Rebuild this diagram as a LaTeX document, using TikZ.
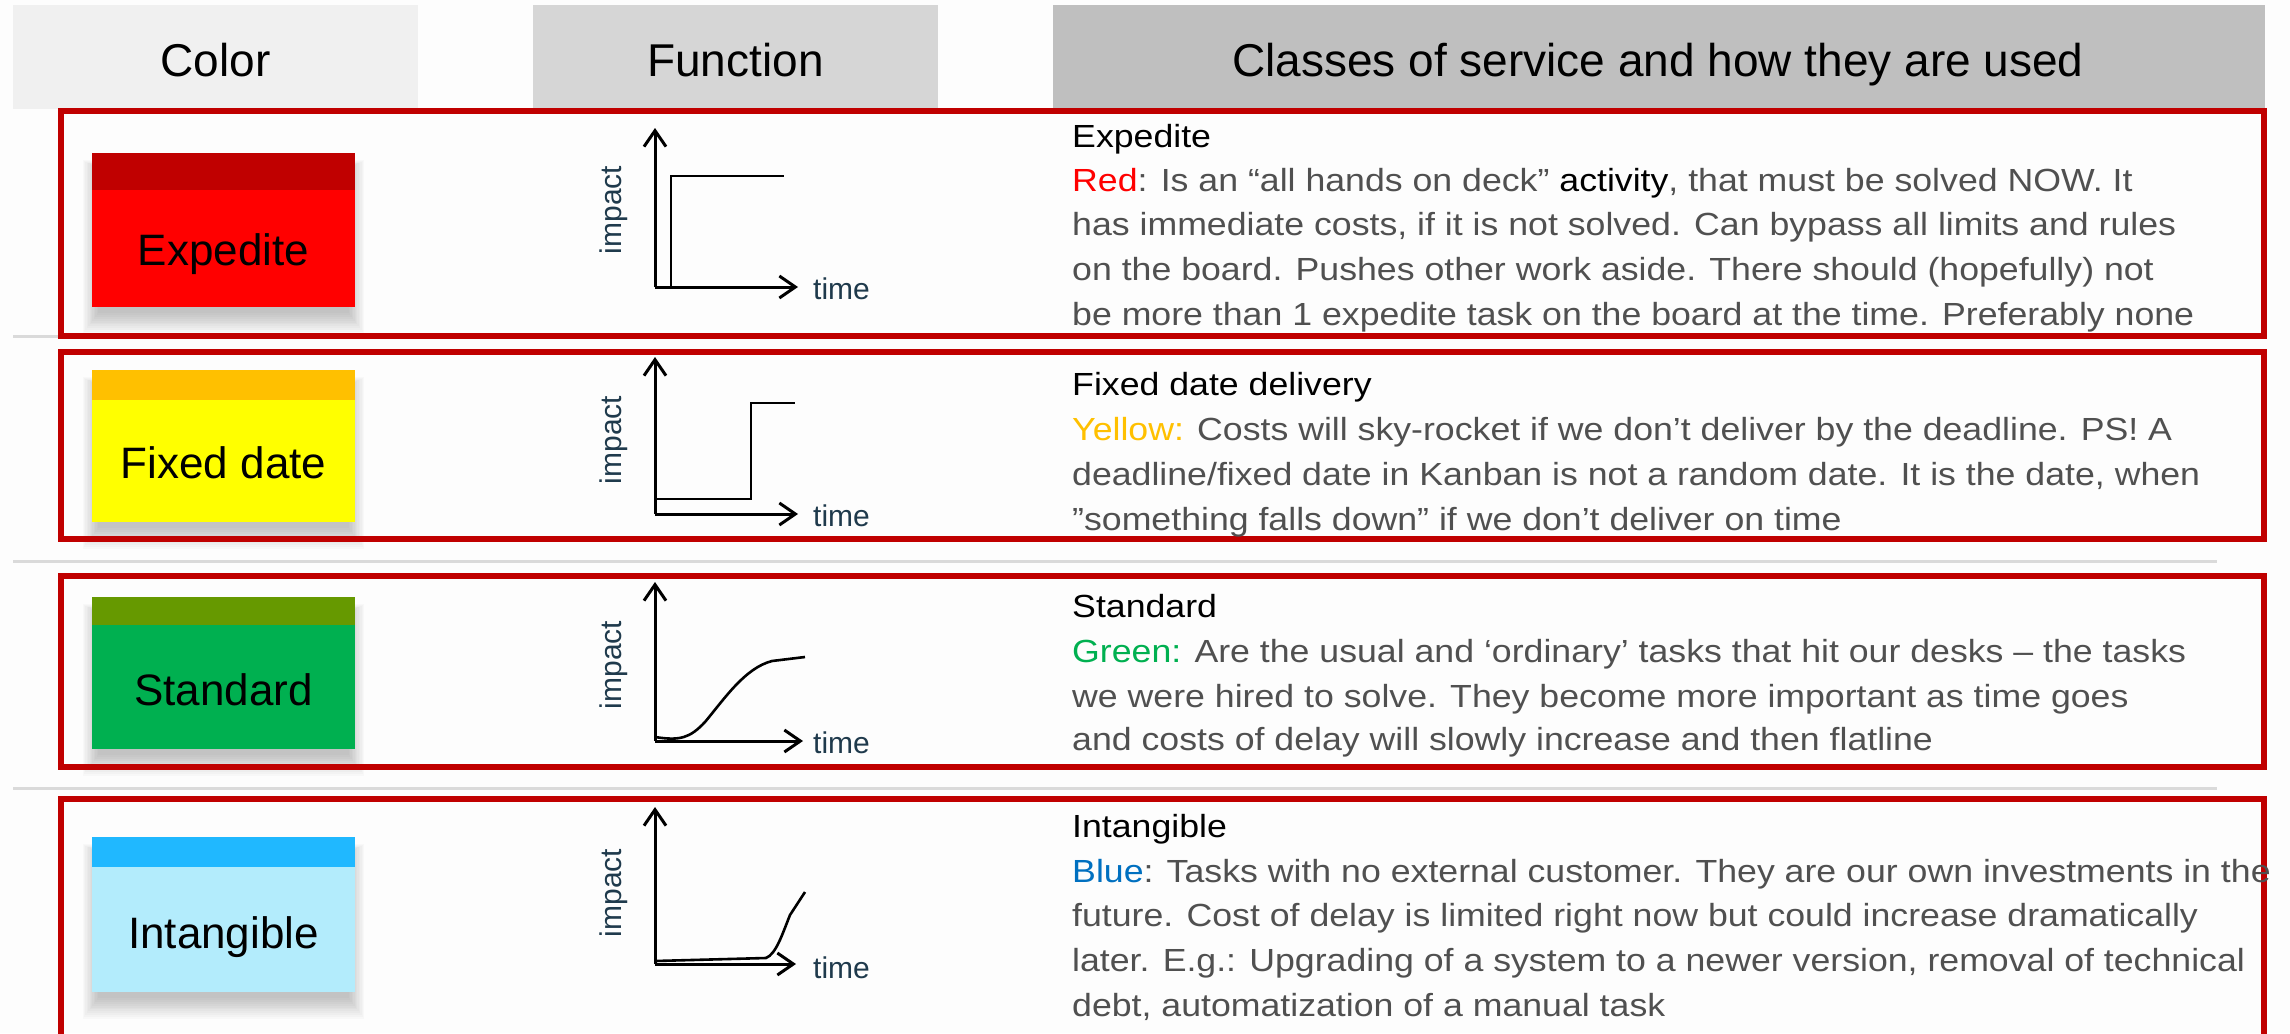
\documentclass[tikz,border=0pt]{standalone}
\usepackage{fontspec}
\setmainfont{Liberation Sans}
\newfontfamily\descfont[FakeStretch=1.115]{Liberation Sans}
\usetikzlibrary{arrows.meta}

\definecolor{pagebg}{HTML}{FDFDFD}
\definecolor{hdrA}{HTML}{F0F0F0}
\definecolor{hdrB}{HTML}{D6D6D6}
\definecolor{hdrC}{HTML}{BFBFBF}
\definecolor{frame}{HTML}{C00000}
\definecolor{rule}{HTML}{DADADA}
\definecolor{bodygray}{HTML}{505050}
\definecolor{axislbl}{HTML}{1F3A4C}
\definecolor{expTop}{HTML}{C00000}
\definecolor{expBody}{HTML}{FF0000}
\definecolor{fixTop}{HTML}{FFC000}
\definecolor{fixBody}{HTML}{FFFF00}
\definecolor{stdTop}{HTML}{669900}
\definecolor{stdBody}{HTML}{00B050}
\definecolor{intTop}{HTML}{20B8FF}
\definecolor{intBody}{HTML}{B3ECFC}
\definecolor{lblRed}{HTML}{FF0000}
\definecolor{lblYellow}{HTML}{FFC000}
\definecolor{lblGreen}{HTML}{00B050}
\definecolor{lblBlue}{HTML}{0070C0}

% soft shadow under a sticky note: stacked translucent rectangles
\newcommand{\noteshadow}[4]{%
  \foreach \k in {0,...,11}{%
    \fill[black, opacity=0.018]
      ({#1+6-\k*1.4},{#2+16-\k*0.8}) rectangle ({#3-6+\k*1.4},{#4+6+\k*1.9});
  }%
}

\tikzset{
  hdrtext/.style={font=\fontsize{46}{56}\selectfont, text=black, anchor=base, inner sep=0},
  rowframe/.style={draw=frame, line width=6pt},
  rowrule/.style={draw=rule, line width=3pt},
  notetext/.style={font=\fontsize{44}{52}\selectfont, text=black, anchor=base, inner sep=0},
  axisline/.style={line width=3pt, -{Straight Barb[length=16pt,width=22pt,line width=3pt]}},
  curve/.style={line width=2.6pt, line join=miter},
  timelbl/.style={font=\fontsize{30}{36}\selectfont, text=axislbl, anchor=west, inner sep=0},
  impactlbl/.style={font=\fontsize{30}{36}\selectfont, text=axislbl, rotate=90, inner sep=0},
  body/.style={font=\descfont\fontsize{32}{40}\selectfont, text=bodygray, anchor=base west, inner sep=0},
  ttl/.style={body, text=black},
}

\begin{document}
\begin{tikzpicture}[x=1pt,y=-1pt]
\fill[pagebg] (0,0) rectangle (2290,1033);
\useasboundingbox (0,0) rectangle (2290,1033);
\clip (0,0) rectangle (2290,1033);

% ---- column headers ----
\fill[hdrA] (13,5) rectangle (418,109);
\fill[hdrB] (533,5) rectangle (938,108);
\fill[hdrC] (1053,5) rectangle (2265,108);
\node[hdrtext] (hColor) at (215.5,76) {Color};
\node[hdrtext] (hFunc) at (735.5,76) {Function};
\node[hdrtext] (hClass) at (1658,76) {Classes of service and how they are used};

% ---- separator rules between rows ----
\draw[rowrule] (13,336) -- (2217,336);
\draw[rowrule] (13,561.5) -- (2217,561.5);
\draw[rowrule] (13,788) -- (2217,788);

% ---- sticky notes ----
\noteshadow{92}{153}{355}{307}
\fill[expTop] (92,153) rectangle (355,190);
\fill[expBody] (92,190) rectangle (355,307);
\node[notetext] (nExp) at (223.5,265) {Expedite};

\noteshadow{92}{370}{355}{522}
\fill[fixTop] (92,370) rectangle (355,400);
\fill[fixBody] (92,400) rectangle (355,522);
\node[notetext] (nFix) at (223.5,478) {Fixed date};

\noteshadow{92}{597}{355}{749}
\fill[stdTop] (92,597) rectangle (355,625);
\fill[stdBody] (92,625) rectangle (355,749);
\node[notetext] (nStd) at (223.5,705) {Standard};

\noteshadow{92}{837}{355}{992}
\fill[intTop] (92,837) rectangle (355,867);
\fill[intBody] (92,867) rectangle (355,992);
\node[notetext] (nInt) at (223.5,948) {Intangible};

% ---- row frames ----
\draw[rowframe] (61,111) rectangle (2264,336);
\draw[rowframe] (61,352) rectangle (2264,539);
\draw[rowframe] (61,576) rectangle (2264,767);
\draw[rowframe] (61,799) rectangle (2264,1045);

% ---- impact/time charts ----
% Expedite: immediate step
\coordinate (o1) at (655,287);
\coordinate (y1) at (655,128);
\coordinate (x1) at (798,287);
\draw[axisline] (o1) -- (y1);
\draw[axisline] (o1) -- (x1);
\draw[curve] (671,287) -- (671,176) -- (784,176);
\node[timelbl] (t1) at (813,289) {time};
\node[impactlbl] (i1) at (614,210) {impact};

% Fixed date: step at the deadline
\coordinate (o2) at (655,514);
\coordinate (y2) at (655,357);
\coordinate (x2) at (798,514);
\draw[axisline] (o2) -- (y2);
\draw[axisline] (o2) -- (x2);
\draw[curve] (655,499) -- (751,499) -- (751,403) -- (795,403);
\node[timelbl] (t2) at (813,516) {time};
\node[impactlbl] (i2) at (614,440) {impact};

% Standard: S-curve that flattens
\coordinate (o3) at (655,741);
\coordinate (y3) at (655,582);
\coordinate (x3) at (803,741);
\draw[axisline] (o3) -- (y3);
\draw[axisline] (o3) -- (x3);
\draw[curve] (655,737) .. controls (680,741) and (690,738) .. (705,722)
  .. controls (725,698) and (745,668) .. (772,661) -- (805,657);
\node[timelbl] (t3) at (813,743) {time};
\node[impactlbl] (i3) at (614,665) {impact};

% Intangible: flat, then a late steep rise
\coordinate (o4) at (655,964);
\coordinate (y4) at (655,807);
\coordinate (x4) at (796,964);
\draw[axisline] (o4) -- (y4);
\draw[axisline] (o4) -- (x4);
\draw[curve] (655,961) -- (766,958) .. controls (776,954) and (782,935) .. (790,915) -- (805,892);
\node[timelbl] (t4) at (813,968) {time};
\node[impactlbl] (i4) at (614,893) {impact};

% ---- descriptions ----
\node[ttl]  (d1t) at (1072,147) {Expedite};
\node[body] (d11) at (1072,191) {\textcolor{lblRed}{Red}: Is an “all hands on deck” \textcolor{black}{activity}, that must be solved NOW. It};
\node[body] (d12) at (1072,235) {has immediate costs, if it is not solved. Can bypass all limits and rules};
\node[body] (d13) at (1072,280) {on the board. Pushes other work aside. There should (hopefully) not};
\node[body] (d14) at (1072,325) {be more than 1 expedite task on the board at the time. Preferably none};

\node[ttl]  (d2t) at (1072,395) {Fixed date delivery};
\node[body] (d21) at (1072,440) {\textcolor{lblYellow}{Yellow:} Costs will sky-rocket if we don’t deliver by the deadline. PS! A};
\node[body] (d22) at (1072,485) {deadline/fixed date in Kanban is not a random date. It is the date, when};
\node[body] (d23) at (1072,530) {”something falls down” if we don’t deliver on time};

\node[ttl]  (d3t) at (1072,617) {Standard};
\node[body] (d31) at (1072,662) {\textcolor{lblGreen}{Green:} Are the usual and ‘ordinary’ tasks that hit our desks – the tasks};
\node[body] (d32) at (1072,707) {we were hired to solve. They become more important as time goes};
\node[body] (d33) at (1072,750) {and costs of delay will slowly increase and then flatline};

\node[ttl]  (d4t) at (1072,837) {Intangible};
\node[body] (d41) at (1072,882) {\textcolor{lblBlue}{Blue}: Tasks with no external customer. They are our own investments in the};
\node[body] (d42) at (1072,926) {future. Cost of delay is limited right now but could increase dramatically};
\node[body] (d43) at (1072,971) {later. E.g.: Upgrading of a system to a newer version, removal of technical};
\node[body] (d44) at (1072,1016) {debt, automatization of a manual task};
\end{tikzpicture}
\end{document}
